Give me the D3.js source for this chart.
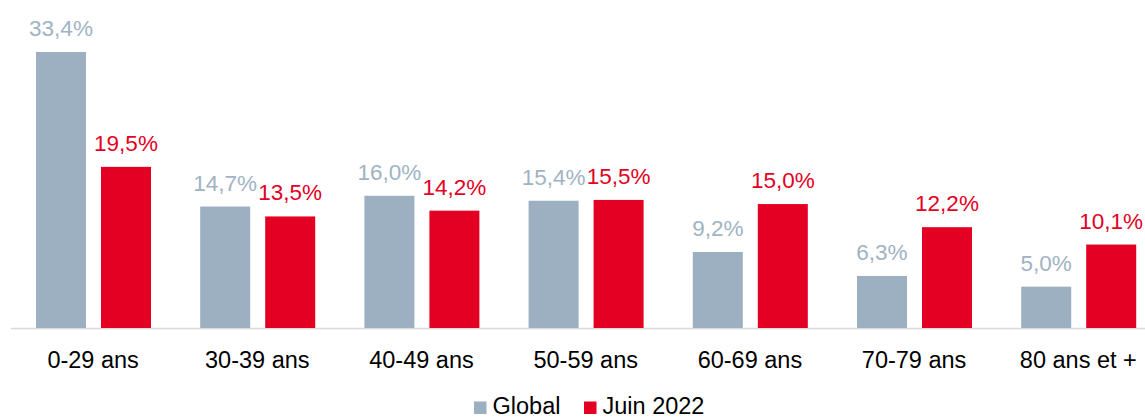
<!DOCTYPE html>
<html>
<head>
<meta charset="utf-8">
<script src="https://cdn.jsdelivr.net/npm/d3@7"></script>
<style>
	body { margin: 0; background: white; }
	svg { display: block; font-family: "Liberation Sans", Arial, Helvetica, sans-serif; }
</style>
</head>
<body>
<div id="chart"></div>
<script>

let categories = ["0-29 ans", "30-39 ans", "40-49 ans", "50-59 ans", "60-69 ans", "70-79 ans", "80 ans et +"];
let globalValues = [33.4, 14.7, 16.0, 15.4, 9.2, 6.3, 5.0];
let juinValues = [19.5, 13.5, 14.2, 15.5, 15.0, 12.2, 10.1];
let seriesNames = ["Global", "Juin 2022"];

let w = 1145;
let h = 419;
let baseY = 328;
let grey = "#9cb0c1";
let red = "#e30022";
let colors = [grey, red];

let viz = d3.select("#chart").append("svg")
	.attr("width", w)
	.attr("height", h)
;

let xScale = d3.scaleBand().domain(categories).range([11, 11 + 7 * 164.2]);
let x1 = d3.scaleBand().domain(seriesNames).range([25, 140]).paddingInner(15 / 65);
let yScale = d3.scaleLinear().domain([0, 33.4]).range([baseY, 52]);

let fmt = function(v){ return v.toFixed(1).replace(".", ",") + "%"; };

// flatten into one row per bar
let data = [];
categories.forEach(function(c, i){
	data.push({cat: c, s: 0, v: globalValues[i]});
	data.push({cat: c, s: 1, v: juinValues[i]});
});

// baseline
viz.append("line")
	.attr("x1", 11)
	.attr("x2", w)
	.attr("y1", baseY + 0.5)
	.attr("y2", baseY + 0.5)
	.attr("stroke", "#d9d9d9")
	.attr("stroke-width", 1.5)
;

let bars = viz.append("g").attr("class", "bars");

bars.selectAll("rect").data(data).enter().append("rect")
	.attr("x", function(d){ return xScale(d.cat) + x1(seriesNames[d.s]); })
	.attr("y", function(d){ return yScale(d.v); })
	.attr("width", x1.bandwidth())
	.attr("height", function(d){ return baseY - yScale(d.v); })
	.attr("fill", function(d){ return colors[d.s]; })
;

bars.selectAll(".val").data(data).enter().append("text")
	.attr("class", "val")
	.attr("x", function(d){ return xScale(d.cat) + x1(seriesNames[d.s]) + x1.bandwidth() / 2; })
	.attr("y", function(d){ return yScale(d.v) - 16; })
	.attr("text-anchor", "middle")
	.attr("font-size", "22.5px")
	.attr("fill", function(d){ return d.s == 0 ? "#a0b3c4" : red; })
	.text(function(d){ return fmt(d.v); })
;

// category labels
let xAxis = d3.axisBottom(xScale).tickSize(0).tickPadding(0);
let axisG = viz.append("g")
	.attr("transform", "translate(0," + 350 + ")")
	.call(xAxis);
axisG.select(".domain").remove();
axisG.selectAll("text")
	.attr("dy", 0)
	.attr("y", 17.5)
	.attr("font-size", "23.5px")
	.attr("font-family", "Liberation Sans, Arial, sans-serif")
	.attr("fill", "#000")
;

// legend (nudged up a little so it isn't clipped by the bottom edge)
let legendX = [474, 584];
let legend = viz.append("g").attr("class", "legend");
seriesNames.forEach(function(name, i){
	legend.append("rect")
		.attr("x", legendX[i])
		.attr("y", 401.5)
		.attr("width", 12.5)
		.attr("height", 12.5)
		.attr("fill", colors[i]);
	legend.append("text")
		.attr("x", legendX[i] + 18.5)
		.attr("y", 414)
		.attr("font-size", "23.5px")
		.attr("fill", "#000")
		.text(name);
});

</script>
</body>
</html>
